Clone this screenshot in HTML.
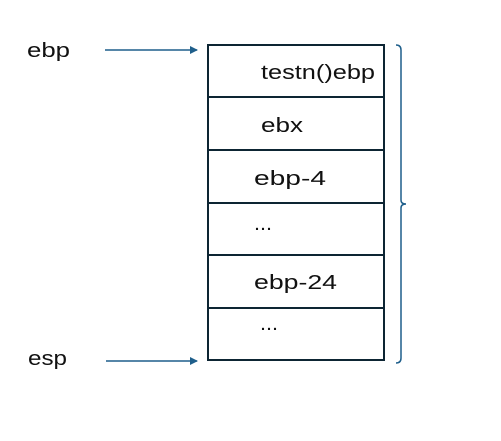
<!DOCTYPE html>
<html><head><style>
body{margin:0;background:#fff;width:501px;height:436px;overflow:hidden}
svg text{font-family:"Liberation Sans",sans-serif;font-size:20px;fill:#111}
</style></head><body>
<svg width="501" height="436" viewBox="0 0 501 436">
<defs><marker id="a" markerWidth="8" markerHeight="8" refX="7" refY="4" orient="auto" markerUnits="userSpaceOnUse"><path d="M0,0 L8,4 L0,8 Z" fill="#1f5f8b"/></marker></defs>
<rect x="208" y="45" width="176" height="315" fill="none" stroke="#0d2533" stroke-width="2"/>
<g stroke="#0d2533" stroke-width="2">
<line x1="208" y1="97" x2="384" y2="97"/>
<line x1="208" y1="150" x2="384" y2="150"/>
<line x1="208" y1="203" x2="384" y2="203"/>
<line x1="208" y1="255" x2="384" y2="255"/>
<line x1="208" y1="308" x2="384" y2="308"/>
</g>
<path d="M396,45 Q401,45 401,50 L401,200 Q401,204 406,204 Q401,204 401,208 L401,358 Q401,363 396,363" fill="none" stroke="#1f5f8b" stroke-width="1.5"/>
<line x1="105" y1="50" x2="197" y2="50" stroke="#1f5f8b" stroke-width="1.5" marker-end="url(#a)"/>
<line x1="106" y1="361" x2="197" y2="361" stroke="#1f5f8b" stroke-width="1.5" marker-end="url(#a)"/>
<text x="27" y="57" textLength="43" lengthAdjust="spacingAndGlyphs">ebp</text>
<text x="28" y="365" textLength="39" lengthAdjust="spacingAndGlyphs">esp</text>
<text x="261" y="79" textLength="114" lengthAdjust="spacingAndGlyphs">testn()ebp</text>
<text x="261" y="132" textLength="42" lengthAdjust="spacingAndGlyphs">ebx</text>
<text x="254" y="185" textLength="72" lengthAdjust="spacingAndGlyphs">ebp-4</text>
<text x="254" y="230" textLength="18" lengthAdjust="spacingAndGlyphs">...</text>
<text x="254" y="289" textLength="83" lengthAdjust="spacingAndGlyphs">ebp-24</text>
<text x="260" y="330" textLength="18" lengthAdjust="spacingAndGlyphs">...</text>
</svg>
</body></html>
